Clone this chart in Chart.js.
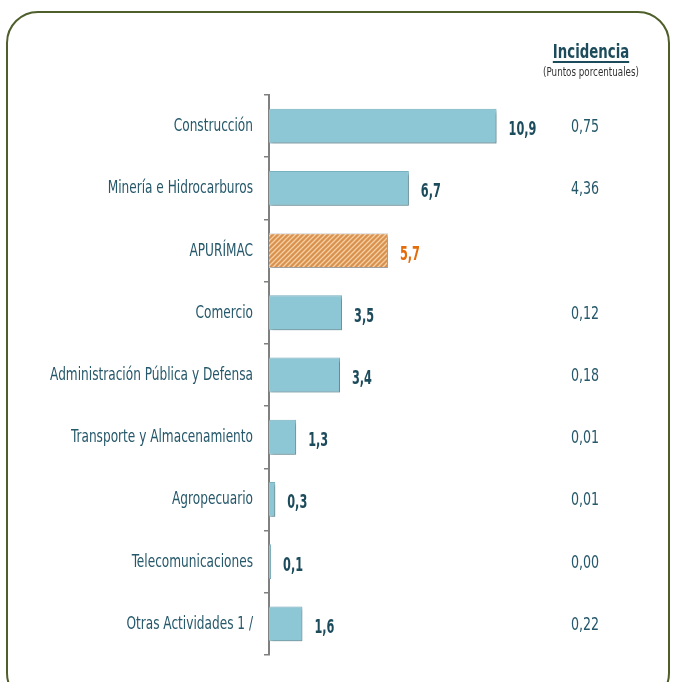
<!DOCTYPE html>
<html>
<head>
<meta charset="utf-8">
<script src="https://cdn.jsdelivr.net/npm/chart.js"></script>
<style>
    html, body { margin: 0; padding: 0; background: #fff; }
    body { width: 675px; height: 682px; position: relative; overflow: hidden; }
    .frame {
        position: absolute; left: 6px; top: 11px; width: 664px; height: 694px;
        border: 2px solid #4e5f2b; border-radius: 32px; box-sizing: border-box;
    }
    #chart { position: absolute; left: 0; top: 0; }
</style>
</head>
<body>
<div class="frame"></div>
<canvas id="chart" width="675" height="682"></canvas>

<script>
    const categories = [
        'Construcción',
        'Minería e Hidrocarburos',
        'APURÍMAC',
        'Comercio',
        'Administración Pública y Defensa',
        'Transporte y Almacenamiento',
        'Agropecuario',
        'Telecomunicaciones',
        'Otras Actividades 1 /'
    ];
    const growth = [10.9, 6.7, 5.7, 3.5, 3.4, 1.3, 0.3, 0.1, 1.6];
    const incidence = ['0,75', '4,36', '', '0,12', '0,18', '0,01', '0,01', '0,00', '0,22'];
    const regionIndex = 2;

    const FONT = "'DejaVu Sans Condensed', 'Liberation Sans Narrow', sans-serif";
    const TEAL = '#25586a';
    const DARK_TEAL = '#1c4b5c';
    const ORANGE = '#e46c0a';

    // diagonal hatch for the region bar
    const makeHatch = () => {
        const c = document.createElement('canvas');
        c.width = 5; c.height = 5;
        const g = c.getContext('2d');
        g.fillStyle = '#d8914f';
        g.fillRect(0, 0, 5, 5);
        g.strokeStyle = '#f6cfa2';
        g.lineWidth = 1.3;
        g.beginPath();
        g.moveTo(-1, 6); g.lineTo(6, -1);
        g.moveTo(-3.5, 3.5); g.lineTo(3.5, -3.5);
        g.moveTo(1.5, 8.5); g.lineTo(8.5, 1.5);
        g.stroke();
        return g.createPattern(c, 'repeat');
    };
    const hatch = makeHatch();

    const barColors = growth.map((v, i) => i === regionIndex ? hatch : '#8dc6d5');
    const borderColors = growth.map((v, i) => i === regionIndex ? '#d6d6d6' : '#79b2c1');

    // squeezed text, the source uses a condensed face
    const drawText = (ctx, text, x, y, font, color, align, sx) => {
        ctx.save();
        ctx.font = font;
        ctx.fillStyle = color;
        ctx.textBaseline = 'alphabetic';
        const w = ctx.measureText(text).width * sx;
        let left = x;
        if (align === 'right') left = x - w;
        if (align === 'center') left = x - w / 2;
        ctx.translate(left, y);
        ctx.scale(sx, 1);
        ctx.textAlign = 'left';
        ctx.fillText(text, 0, 0);
        ctx.restore();
        return { left: left, width: w };
    };

    const shadowPlugin = {
        id: 'shadow',
        beforeDatasetsDraw(chart) {
            const ctx = chart.ctx;
            ctx.save();
            ctx.shadowColor = 'rgba(0,0,0,0.3)';
            ctx.shadowOffsetX = 2;
            ctx.shadowOffsetY = 2;
            ctx.shadowBlur = 3;
        },
        afterDatasetsDraw(chart) {
            chart.ctx.restore();
        }
    };

    const labelsPlugin = {
        id: 'extraText',
        afterDraw(chart) {
            const ctx = chart.ctx;
            const meta = chart.getDatasetMeta(0);
            meta.data.forEach((bar, i) => {
                // category name
                drawText(ctx, categories[i], 253, bar.y + 5, '18px ' + FONT, TEAL, 'right', 0.75);
                // value next to the bar
                drawText(ctx, growth[i].toFixed(1).replace('.', ','), bar.x + 12, bar.y + 9,
                    'bold 19px ' + FONT, i === regionIndex ? ORANGE : DARK_TEAL, 'left', 0.66);
                // incidence column
                if (incidence[i]) {
                    drawText(ctx, incidence[i], 585, bar.y + 6, '18px ' + FONT, TEAL, 'center', 0.78);
                }
            });
            // header
            const h = drawText(ctx, 'Incidencia', 591, 58, 'bold 20px ' + FONT, DARK_TEAL, 'center', 0.74);
            ctx.fillStyle = DARK_TEAL;
            ctx.fillRect(h.left, 61, h.width, 2);
            drawText(ctx, '(Puntos porcentuales)', 591, 76, '12px ' + FONT, '#333333', 'center', 0.81);
        }
    };

    new Chart(document.getElementById('chart'), {
        type: 'bar',
        data: {
            labels: categories,
            datasets: [{
                data: growth,
                backgroundColor: barColors,
                borderColor: borderColors,
                borderWidth: 1,
                barPercentage: 0.56,
                categoryPercentage: 1
            }]
        },
        options: {
            indexAxis: 'y',
            responsive: false,
            animation: false,
            layout: { padding: { top: 95, bottom: 27, left: 0, right: 72 } },
            plugins: { legend: { display: false }, tooltip: { enabled: false } },
            scales: {
                x: {
                    display: false,
                    min: 0,
                    max: 16
                },
                y: {
                    afterFit(scale) { scale.width = 269; },
                    border: { display: true, color: '#808080', width: 2 },
                    grid: { drawOnChartArea: false, offset: true, tickLength: 5, color: '#808080', lineWidth: 1.5 },
                    ticks: { display: false }
                }
            }
        },
        plugins: [shadowPlugin, labelsPlugin]
    });
</script>
</body>
</html>
